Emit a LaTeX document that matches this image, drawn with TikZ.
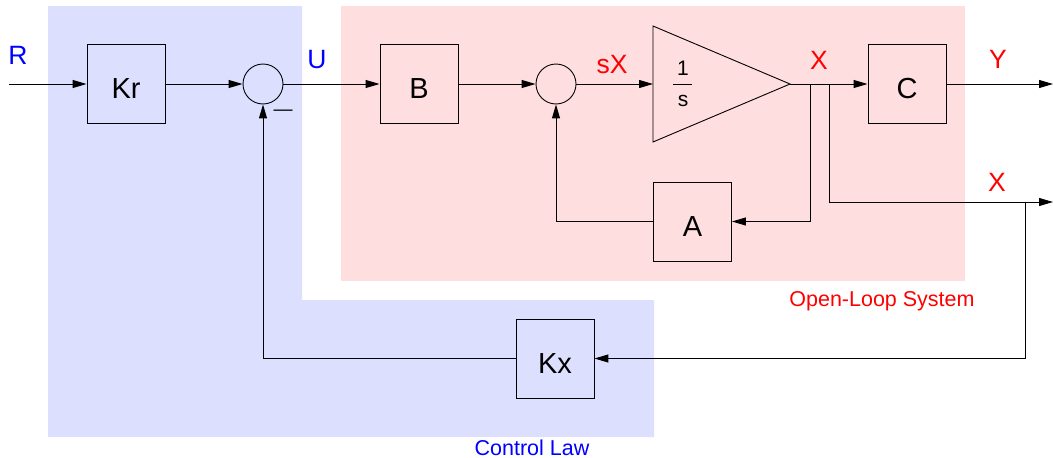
\documentclass[tikz,border=0pt]{standalone}
\usepackage{fontspec}
\setmainfont{Liberation Sans}
\usetikzlibrary{arrows.meta}
\definecolor{lawblue}{HTML}{DDDFFF}
\definecolor{olpink}{HTML}{FFDEDF}
\definecolor{lblblue}{HTML}{0000FF}
\definecolor{lblred}{HTML}{FF0000}
\begin{document}
\begin{tikzpicture}[x=1pt,y=-1pt,
  blockbox/.style={draw, line width=0.9pt, minimum width=78pt, minimum height=79pt, inner sep=0pt,
    font=\fontsize{29}{31}\selectfont, text height=29pt, text depth=0pt},
  sumnode/.style={draw, circle, minimum size=40pt, inner sep=0pt, line width=0.9pt},
  sig/.style={line width=1pt, -{Triangle[length=14pt,width=8pt]}},
  siglbl/.style={font=\fontsize{26.5}{28}\selectfont, inner sep=0pt},
  regionlbl/.style={font=\fontsize{21.5}{23}\selectfont, inner sep=0pt},
  fraclbl/.style={font=\fontsize{21}{23}\selectfont, inner sep=0pt},
]
\useasboundingbox (0,0) rectangle (1053,458);
% regions
\fill[lawblue] (48,6) -- (302,6) -- (302,300) -- (654,300) -- (654,437) -- (48,437) -- cycle;
\fill[olpink] (341,6) rectangle (965,281);
\node[regionlbl, text=lblred, anchor=base] (oltext) at (882,306) {Open-Loop System};
\node[regionlbl, text=lblblue] (cltext) at (532,447.5) {Control Law};

% blocks
\node[blockbox] (kr) at (126,84) {Kr};
\node[blockbox] (b) at (419,84) {B};
\node[blockbox] (c) at (907,84) {C};
\node[blockbox] (a) at (692.5,221.5) {A};
\node[blockbox] (kx) at (555,358.5) {Kx};
\node[sumnode] (s1) at (263,84) {};
\node[sumnode] (s2) at (556,84) {};

% integrator
\coordinate (tin) at (653,84);
\coordinate (tout) at (790,84);
\draw[line width=0.9pt] (653,26) -- (tout) -- (653,142) -- cycle;
\node[fraclbl] (one) at (683,68) {1};
\node[fraclbl] (ess) at (683,101) {s};
\draw[line width=0.8pt] (673,84) -- (692,84);

% signals
\coordinate (rin) at (9,84);
\coordinate (yout) at (1053,84);
\coordinate (xout) at (1053,202);
\coordinate (br1) at (810,84);
\coordinate (br2) at (829,84);
\coordinate (br3) at (1025,202);
\draw[sig] (rin) -- (kr);
\draw[sig] (kr) -- (s1);
\draw[sig] (s1) -- (b);
\draw[sig] (b) -- (s2);
\draw[sig] (s2) -- (tin);
\draw[sig] (tout) -- (c);
\draw[sig] (c) -- (yout);
\draw[sig] (br1) |- (a.east);
\draw[sig] (a.west) -| (s2.south);
\draw[sig] (br2) |- (xout);
\draw[sig] (br3) |- (kx.east);
\draw[sig] (kx.west) -| (s1.south);

% labels
\node[siglbl, text=lblblue] (lr) at (18,55) {R};
\node[siglbl, text=lblblue] (lu) at (317,60) {U};
\node[siglbl, text=lblred] (lsx) at (612,65) {sX};
\node[siglbl, text=lblred] (lx1) at (819,60) {X};
\node[siglbl, text=lblred] (ly) at (998,59) {Y};
\node[siglbl, text=lblred] (lx2) at (997,182) {X};
\node[inner sep=0pt, font=\fontsize{19}{20}\selectfont] (minus) at (283,113) {—};
\end{tikzpicture}
\end{document}
